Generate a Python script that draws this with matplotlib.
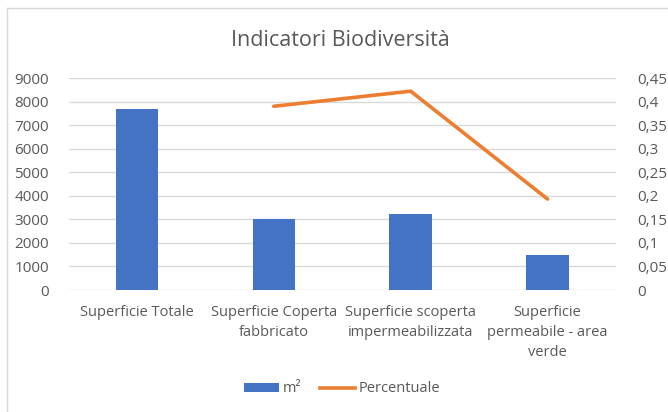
import numpy as np
import matplotlib
matplotlib.use("Agg")
import matplotlib.pyplot as plt
from matplotlib.patches import Patch
from matplotlib.lines import Line2D

categorie = ["Superficie Totale", "Superficie Coperta\nfabbricato",
             "Superficie scoperta\nimpermeabilizzata", "Superficie\npermeabile - area\nverde"]
mq = [7680, 3000, 3240, 1480]
percentuale = [np.nan, 0.39, 0.422, 0.193]
ticks_sx = [0, 1000, 2000, 3000, 4000, 5000, 6000, 7000, 8000, 9000]
ticks_dx = [0, 0.05, 0.1, 0.15, 0.2, 0.25, 0.3, 0.35, 0.4, 0.45]

BLU = "#4472C4"
ARANCIO = "#ED7D31"
GRIGIO = "#595959"
GRIGLIA = "#D9D9D9"

plt.rcParams['font.family'] = ['Open Sans', 'DejaVu Sans']

W, H = 668, 412
fig = plt.figure(figsize=(W / 100, H / 100), dpi=100)

# cornice del grafico (solo lato alto e sinistro visibili)
fig.add_artist(Line2D([7 / W, 7 / W], [0, 1 - 8 / H], color=GRIGLIA, lw=1))
fig.add_artist(Line2D([7 / W, 1], [1 - 8 / H, 1 - 8 / H], color=GRIGLIA, lw=1))

ax = fig.add_axes([68.5 / W, 1 - 290 / H, (616 - 68.5) / W, (290 - 78) / H])
x = np.arange(len(categorie))
ax.bar(x, mq, width=0.31, color=BLU, zorder=2)
ax.set_xlim(-0.5, len(categorie) - 0.5)
ax.set_ylim(0, 9000)
ax.set_yticks(ticks_sx)
ax.set_yticklabels([str(t) for t in ticks_sx])
ax.set_xticks(x)
ax.set_xticklabels(categorie, linespacing=1.42)
ax.grid(axis="y", color=GRIGLIA, lw=1, zorder=0)
for s in ax.spines.values():
    s.set_visible(False)
ax.tick_params(length=0, colors=GRIGIO, labelsize=10.5)
ax.tick_params(axis="x", pad=11)
ax.tick_params(axis="y", pad=14, labelsize=11)

ax2 = ax.twinx()
ax2.plot(x, percentuale, color=ARANCIO, lw=2.6, solid_capstyle="round", zorder=3)
ax2.set_ylim(0, 0.45)
ax2.set_yticks(ticks_dx)
ax2.set_yticklabels([("%g" % t).replace(".", ",") for t in ticks_dx])
for s in ax2.spines.values():
    s.set_visible(False)
ax2.tick_params(length=0, colors=GRIGIO, labelsize=11, pad=15)

fig.text(340 / W, 1 - 40 / H, "Indicatori Biodiversità", ha="center", va="center",
         fontsize=15.5, color=GRIGIO)

handles = [Patch(facecolor=BLU, edgecolor="none"),
           Line2D([0], [0], color=ARANCIO, lw=2.6)]
fig.legend(handles, ["m²", "Percentuale"], loc="center", bbox_to_anchor=(342 / W, 1 - 389 / H),
           ncol=2, frameon=False, fontsize=10.5, labelcolor=GRIGIO, handlelength=2.4,
           handleheight=0.55, handletextpad=0.25, columnspacing=1.3)

fig.savefig("out.png", dpi=100)
